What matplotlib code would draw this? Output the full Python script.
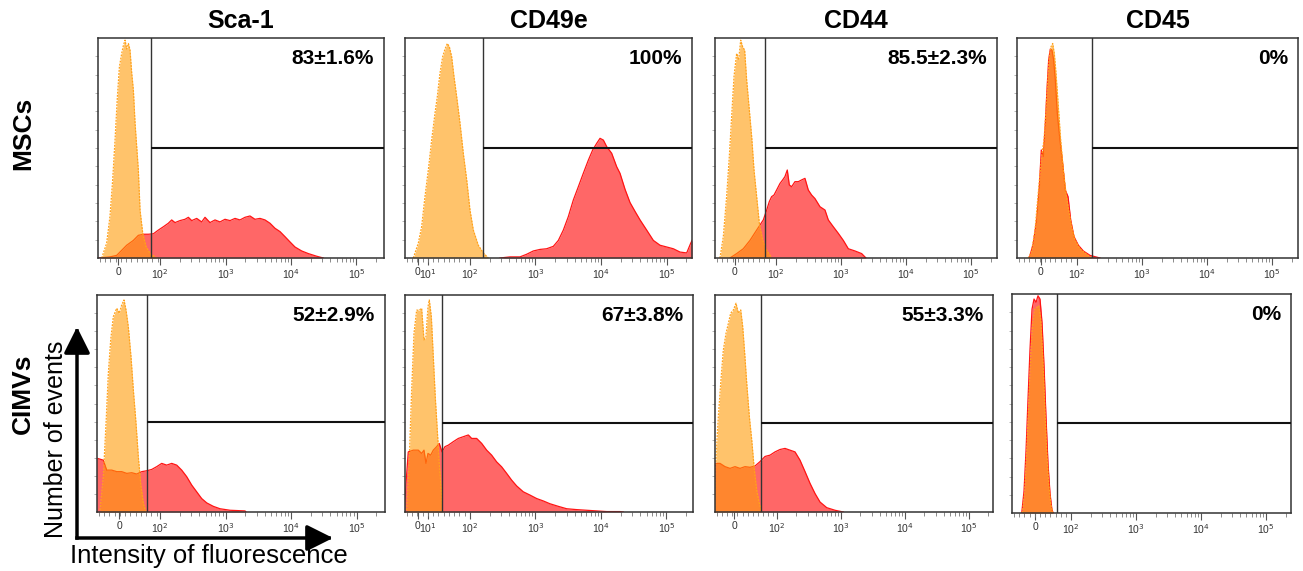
import numpy as np
import matplotlib
matplotlib.use("Agg")
import matplotlib.pyplot as plt
from matplotlib.patches import FancyArrowPatch

plt.rcParams["font.family"] = ["Liberation Sans", "DejaVu Sans"]

# x = display position in decades (10^2 -> 2, 10^3 -> 3 ...), y = normalised events
MARKERS = ["Sca-1", "CD49e", "CD44", "CD45"]
ROWS = ["MSCs", "CIMVs"]
PCT_MSC = ["83±1.6%", "100%", "85.5±2.3%", "0%"]
PCT_CIMV = ["52±2.9%", "67±3.8%", "55±3.3%", "0%"]
GATE_MSC = [1.86, 2.20, 1.83, 2.23]
GATE_CIMV = [1.80, 1.57, 1.75, 1.78]
LEVEL_MSC = [0.50, 0.50, 0.50, 0.50]
LEVEL_CIMV = [0.415, 0.41, 0.41, 0.41]

# ---- MSCs ----
SCA1_MSC_ISO_X = [1.11, 1.185, 1.236, 1.277, 1.313, 1.349, 1.38, 1.415, 1.44, 1.466, 1.491, 1.517,
                  1.542, 1.568, 1.593, 1.619, 1.644, 1.669, 1.695, 1.736, 1.787, 1.848, 1.95]
SCA1_MSC_ISO_Y = [0.0, 0.067, 0.19, 0.355, 0.536, 0.733, 0.87, 0.93, 0.965, 0.99, 0.95, 0.975,
                  0.945, 0.84, 0.764, 0.612, 0.506, 0.40, 0.218, 0.112, 0.052, 0.021, 0.0]
SCA1_MSC_AB_X = [1.06, 1.236, 1.339, 1.415, 1.491, 1.593, 1.669, 1.746, 1.822, 1.898, 1.975, 2.051,
                 2.127, 2.178, 2.229, 2.305, 2.382, 2.433, 2.484, 2.56, 2.636, 2.687, 2.763, 2.84,
                 2.916, 2.992, 3.069, 3.145, 3.221, 3.298, 3.374, 3.45, 3.527, 3.603, 3.679, 3.756,
                 3.832, 3.908, 3.985, 4.061, 4.163, 4.265, 4.392, 4.494]
SCA1_MSC_AB_Y = [0.0, 0.005, 0.012, 0.035, 0.058, 0.08, 0.103, 0.108, 0.108, 0.11, 0.127, 0.142,
                 0.158, 0.173, 0.161, 0.17, 0.176, 0.185, 0.17, 0.18, 0.164, 0.185, 0.161, 0.173,
                 0.164, 0.176, 0.17, 0.18, 0.173, 0.185, 0.191, 0.176, 0.18, 0.173, 0.158, 0.135,
                 0.12, 0.097, 0.073, 0.05, 0.032, 0.02, 0.008, 0.0]

CD49E_MSC_ISO_X = [1.135, 1.211, 1.262, 1.313, 1.364, 1.415, 1.466, 1.501, 1.542, 1.583, 1.619,
                   1.654, 1.685, 1.72, 1.756, 1.797, 1.848, 1.898, 1.95, 2.0, 2.051, 2.127, 2.204, 2.28]
CD49E_MSC_ISO_Y = [0.0, 0.067, 0.142, 0.279, 0.40, 0.536, 0.658, 0.733, 0.84, 0.915, 0.95,
                   0.975, 0.96, 0.915, 0.824, 0.733, 0.612, 0.476, 0.355, 0.218, 0.127, 0.058, 0.023, 0.0]
CD49E_MSC_AB_X = [2.458, 2.611, 2.763, 2.865, 2.967, 3.069, 3.17, 3.272, 3.349, 3.425, 3.501, 3.578,
                  3.654, 3.73, 3.807, 3.873, 3.934, 3.985, 4.036, 4.087, 4.163, 4.239, 4.29, 4.367,
                  4.443, 4.519, 4.596, 4.697, 4.799, 4.901, 5.003, 5.104, 5.206, 5.308, 5.369, 5.39]
CD49E_MSC_AB_Y = [0.0, 0.005, 0.005, 0.017, 0.032, 0.039, 0.042, 0.053, 0.08, 0.127, 0.188, 0.264,
                  0.324, 0.385, 0.445, 0.491, 0.521, 0.544, 0.536, 0.506, 0.476, 0.415, 0.385, 0.312,
                  0.252, 0.212, 0.173, 0.127, 0.08, 0.058, 0.05, 0.042, 0.027, 0.023, 0.067, 0.08]

CD44_MSC_ISO_X = [1.138, 1.19, 1.241, 1.282, 1.318, 1.354, 1.395, 1.426, 1.457, 1.487, 1.518, 1.549,
                  1.59, 1.626, 1.662, 1.703, 1.744, 1.795, 1.857, 1.933]
CD44_MSC_ISO_Y = [0.0, 0.097, 0.279, 0.461, 0.642, 0.824, 0.93, 0.90, 0.99, 0.96, 0.945, 0.809,
                  0.673, 0.552, 0.40, 0.279, 0.158, 0.082, 0.036, 0.0]
CD44_MSC_AB_X = [1.292, 1.395, 1.497, 1.60, 1.703, 1.805, 1.857, 1.897, 1.933, 1.969, 2.01, 2.062,
                 2.103, 2.138, 2.174, 2.205, 2.241, 2.292, 2.344, 2.395, 2.446, 2.497, 2.549, 2.60,
                 2.677, 2.754, 2.805, 2.882, 2.959, 3.036, 3.113, 3.215, 3.318, 3.385]
CD44_MSC_AB_Y = [0.0, 0.02, 0.042, 0.08, 0.127, 0.173, 0.218, 0.256, 0.279, 0.286, 0.309, 0.339,
                 0.355, 0.37, 0.40, 0.332, 0.324, 0.347, 0.347, 0.355, 0.362, 0.309, 0.286, 0.27,
                 0.233, 0.218, 0.173, 0.142, 0.112, 0.08, 0.042, 0.032, 0.02, 0.0]

CD45_MSC_ISO_X = [1.251, 1.302, 1.354, 1.39, 1.431, 1.462, 1.492, 1.523, 1.549, 1.574, 1.60, 1.626,
                  1.651, 1.677, 1.713, 1.749, 1.79, 1.831, 1.872, 1.918, 1.969, 2.046, 2.123, 2.226]
CD45_MSC_ISO_Y = [0.0, 0.03, 0.127, 0.249, 0.385, 0.476, 0.536, 0.673, 0.809, 0.915, 0.96, 0.975,
                  0.93, 0.84, 0.688, 0.536, 0.40, 0.294, 0.218, 0.142, 0.082, 0.042, 0.023, 0.0]
CD45_MSC_AB_X = [1.267, 1.328, 1.38, 1.421, 1.451, 1.482, 1.513, 1.538, 1.564, 1.59, 1.615, 1.641,
                 1.667, 1.697, 1.738, 1.779, 1.82, 1.862, 1.903, 1.954, 2.021, 2.097, 2.20, 2.354]
CD45_MSC_AB_Y = [0.0, 0.067, 0.173, 0.324, 0.491, 0.461, 0.612, 0.764, 0.90, 0.95, 0.945, 0.90,
                 0.809, 0.658, 0.536, 0.43, 0.309, 0.279, 0.173, 0.097, 0.058, 0.032, 0.012, 0.0]

# ---- CIMVs ----
SCA1_CIMV_ISO_X = [1.084, 1.134, 1.176, 1.211, 1.247, 1.287, 1.339, 1.379, 1.415, 1.45, 1.481, 1.516,
                   1.557, 1.593, 1.634, 1.669, 1.705, 1.746, 1.786]
SCA1_CIMV_ISO_Y = [0.009, 0.163, 0.408, 0.639, 0.793, 0.90, 0.939, 0.916, 0.954, 0.977, 0.931, 0.854,
                   0.716, 0.562, 0.408, 0.255, 0.132, 0.04, 0.0]
SCA1_CIMV_AB_X = [1.03, 1.045, 1.134, 1.186, 1.263, 1.339, 1.415, 1.492, 1.568, 1.644, 1.721, 1.797,
                  1.873, 1.95, 2.026, 2.102, 2.179, 2.255, 2.331, 2.407, 2.484, 2.56, 2.636, 2.713,
                  2.814, 2.916, 3.069, 3.298, 3.313]
SCA1_CIMV_AB_Y = [0.247, 0.247, 0.239, 0.193, 0.193, 0.186, 0.186, 0.178, 0.181, 0.175, 0.186, 0.19,
                  0.196, 0.209, 0.224, 0.216, 0.224, 0.216, 0.193, 0.163, 0.124, 0.093, 0.062, 0.042,
                  0.026, 0.015, 0.008, 0.005, 0.0]

CD49E_CIMV_ISO_X = [1.034, 1.074, 1.11, 1.145, 1.186, 1.226, 1.262, 1.298, 1.328, 1.359, 1.379, 1.41,
                    1.44, 1.47, 1.501, 1.531, 1.562, 1.583]
CD49E_CIMV_ISO_Y = [0.009, 0.256, 0.562, 0.823, 0.93, 0.93, 0.939, 0.793, 0.808, 0.946, 0.977, 0.90,
                    0.716, 0.531, 0.377, 0.224, 0.101, 0.0]
CD49E_CIMV_AB_X = [1.0, 1.023, 1.058, 1.135, 1.211, 1.262, 1.298, 1.328, 1.359, 1.40, 1.44, 1.491,
                   1.531, 1.573, 1.618, 1.669, 1.745, 1.822, 1.898, 1.975, 2.026, 2.102, 2.179, 2.255,
                   2.331, 2.407, 2.484, 2.56, 2.636, 2.713, 2.814, 2.916, 3.018, 3.119, 3.221, 3.349,
                   3.476, 3.628, 3.781, 3.934, 4.087, 4.29, 4.34]
CD49E_CIMV_AB_Y = [0.0, 0.132, 0.277, 0.285, 0.285, 0.27, 0.285, 0.224, 0.27, 0.262, 0.285, 0.301,
                   0.316, 0.277, 0.301, 0.308, 0.324, 0.339, 0.347, 0.355, 0.339, 0.339, 0.316, 0.285,
                   0.262, 0.231, 0.208, 0.178, 0.147, 0.12, 0.093, 0.078, 0.062, 0.051, 0.038, 0.026,
                   0.015, 0.011, 0.008, 0.005, 0.002, 0.002, 0.0]

CD44_CIMV_ISO_X = [1.031, 1.047, 1.083, 1.12, 1.161, 1.203, 1.24, 1.276, 1.318, 1.359, 1.396, 1.433,
                   1.464, 1.495, 1.527, 1.568, 1.605, 1.641, 1.683, 1.724, 1.761]
CD44_CIMV_ISO_Y = [0.0, 0.256, 0.439, 0.593, 0.746, 0.823, 0.869, 0.916, 0.931, 0.962, 0.916, 0.931,
                   0.854, 0.731, 0.593, 0.439, 0.332, 0.209, 0.101, 0.04, 0.0]
CD44_CIMV_AB_X = [1.016, 1.036, 1.109, 1.188, 1.266, 1.344, 1.422, 1.50, 1.578, 1.656, 1.734, 1.813,
                  1.891, 1.969, 2.047, 2.125, 2.203, 2.281, 2.359, 2.438, 2.516, 2.594, 2.672, 2.777,
                  2.906, 3.036]
CD44_CIMV_AB_Y = [0.0, 0.224, 0.224, 0.209, 0.201, 0.209, 0.201, 0.209, 0.206, 0.212, 0.232, 0.256,
                  0.262, 0.277, 0.288, 0.293, 0.285, 0.277, 0.239, 0.186, 0.132, 0.085, 0.046, 0.02,
                  0.008, 0.0]

CD45_CIMV_ISO_X = [1.251, 1.288, 1.318, 1.349, 1.38, 1.41, 1.441, 1.472, 1.503, 1.534, 1.565, 1.595,
                   1.626, 1.657, 1.688, 1.718]
CD45_CIMV_ISO_Y = [0.0, 0.10, 0.285, 0.50, 0.716, 0.869, 0.931, 0.939, 0.946, 0.885, 0.716, 0.50,
                   0.285, 0.132, 0.04, 0.0]
CD45_CIMV_AB_X = [1.242, 1.277, 1.308, 1.338, 1.369, 1.40, 1.431, 1.462, 1.492, 1.523, 1.554, 1.585,
                  1.615, 1.646, 1.677, 1.708, 1.728]
CD45_CIMV_AB_Y = [0.0, 0.10, 0.285, 0.516, 0.746, 0.931, 0.977, 0.962, 0.992, 0.977, 0.869, 0.67,
                  0.439, 0.224, 0.089, 0.012, 0.0]

ISO = [[(SCA1_MSC_ISO_X, SCA1_MSC_ISO_Y), (CD49E_MSC_ISO_X, CD49E_MSC_ISO_Y),
        (CD44_MSC_ISO_X, CD44_MSC_ISO_Y), (CD45_MSC_ISO_X, CD45_MSC_ISO_Y)],
       [(SCA1_CIMV_ISO_X, SCA1_CIMV_ISO_Y), (CD49E_CIMV_ISO_X, CD49E_CIMV_ISO_Y),
        (CD44_CIMV_ISO_X, CD44_CIMV_ISO_Y), (CD45_CIMV_ISO_X, CD45_CIMV_ISO_Y)]]
AB = [[(SCA1_MSC_AB_X, SCA1_MSC_AB_Y), (CD49E_MSC_AB_X, CD49E_MSC_AB_Y),
       (CD44_MSC_AB_X, CD44_MSC_AB_Y), (CD45_MSC_AB_X, CD45_MSC_AB_Y)],
      [(SCA1_CIMV_AB_X, SCA1_CIMV_AB_Y), (CD49E_CIMV_AB_X, CD49E_CIMV_AB_Y),
       (CD44_CIMV_AB_X, CD44_CIMV_AB_Y), (CD45_CIMV_AB_X, CD45_CIMV_AB_Y)]]

# panel boxes in pixels (left, right, top, bottom) and x-limits in decade units
W, H = 1303, 571
BOX = [[(98, 384, 38, 258), (405, 692, 38, 258), (715, 997, 38, 258), (1017, 1298, 38, 258)],
       [(97, 385, 295, 512), (405, 693, 295, 512), (715, 993, 295, 512), (1012, 1291, 294, 513)]]
XLIM = [[(1.053, 5.42), (1.008, 5.389), (1.062, 5.40), (1.077, 5.40)],
        [(1.038, 5.435), (1.008, 5.405), (1.031, 5.375), (1.092, 5.385)]]
ZERO = [[1.359, 1.2, 1.369, 1.446], [1.374, 1.2, 1.328, 1.446]]

RED_FILL = "#ff6767"
RED_LINE = "#ff1414"
ORANGE = (1.0, 0.612, 0.031)
ORANGE_LINE = "#ffa21c"


def style_axis(ax, xlim, zero, col):
    ax.set_xlim(*xlim)
    ax.set_ylim(0, 1)
    pos = [zero, 2, 3, 4, 5]
    lab = ["0", "10$^2$", "10$^3$", "10$^4$", "10$^5$"]
    if col == 1:
        pos = [zero, 1.36, 2, 3, 4, 5]
        lab = ["0", "10$^1$", "10$^2$", "10$^3$", "10$^4$", "10$^5$"]
    ax.set_xticks(pos)
    ax.set_xticklabels(lab)
    minor = list(np.arange(xlim[0] + 0.03, 1.97, 0.08))
    for n in range(2, 6):
        minor += [np.log10(k * 10 ** n) for k in range(2, 10)]
    minor = [m for m in minor if m < xlim[1]]
    ax.set_xticks(minor, minor=True)
    ax.tick_params(axis="x", which="major", direction="out", length=5, width=0.8,
                   color="#555555", labelsize=7.5, labelcolor="#333333", pad=1.5)
    ax.tick_params(axis="x", which="minor", direction="out", length=3, width=0.6, color="#777777")
    ax.set_yticks(np.linspace(0, 1, 13)[1:-1])
    ax.set_yticklabels([])
    ax.tick_params(axis="y", direction="out", length=2.5, width=0.6, color="#aaaaaa")
    for s in ax.spines.values():
        s.set_color("#333333")
        s.set_linewidth(1.1)


fig = plt.figure(figsize=(W / 100, H / 100), dpi=100)

for r in range(2):
    for c in range(4):
        l, rr, t, b = BOX[r][c]
        ax = fig.add_axes([l / W, 1 - b / H, (rr - l) / W, (b - t) / H])
        ax_x, ax_y = AB[r][c]
        iso_x, iso_y = ISO[r][c]
        ax.fill_between(ax_x, ax_y, color=RED_FILL, lw=0, zorder=1)
        ax.plot(ax_x, ax_y, color=RED_LINE, lw=0.9, zorder=1.5)
        ax.fill_between(iso_x, iso_y, color=ORANGE, alpha=0.6, lw=0, zorder=2)
        ax.plot(iso_x, iso_y, color=ORANGE_LINE, lw=0.9, ls=(0, (1.5, 1)), zorder=2.5)

        gate = [GATE_MSC, GATE_CIMV][r][c]
        level = [LEVEL_MSC, LEVEL_CIMV][r][c]
        ax.axvline(gate, color="#333333", lw=1.0, zorder=3)
        ax.plot([gate, XLIM[r][c][1]], [level, level], color="#111111", lw=1.5, zorder=3,
                solid_capstyle="butt")
        pct = [PCT_MSC, PCT_CIMV][r][c]
        ax.text(0.965, 0.905, pct, transform=ax.transAxes, ha="right", va="center",
                fontsize=15, fontweight="bold", zorder=4)
        style_axis(ax, XLIM[r][c], ZERO[r][c], c)

        if r == 0:
            fig.text((l + rr) / 2 / W, 1 - 21.5 / H, MARKERS[c], ha="center", va="center",
                     fontsize=18, fontweight="bold")

fig.text(23 / W, 1 - 133 / H, ROWS[0], rotation=90, ha="center", va="center",
         fontsize=19, fontweight="bold")
fig.text(23 / W, 1 - 394 / H, ROWS[1], rotation=90, ha="center", va="center",
         fontsize=19, fontweight="bold")

# axis-meaning arrows at lower left
corner = (77 / W, 1 - 538 / H)
for tip in [(77 / W, 1 - 327 / H), (333 / W, 1 - 538 / H)]:
    fig.add_artist(FancyArrowPatch(corner, tip, transform=fig.transFigure,
                                   arrowstyle="-|>,head_length=0.8,head_width=0.4",
                                   mutation_scale=20, lw=2.5, color="black",
                                   shrinkA=0, shrinkB=0, capstyle="projecting"))
fig.text(56 / W, 1 - 439 / H, "Number of events", rotation=90, ha="center", va="center",
         fontsize=18)
fig.text(209 / W, 1 - 556 / H, "Intensity of fluorescence", ha="center", va="center",
         fontsize=18.5)

fig.savefig("out.png", dpi=100)
